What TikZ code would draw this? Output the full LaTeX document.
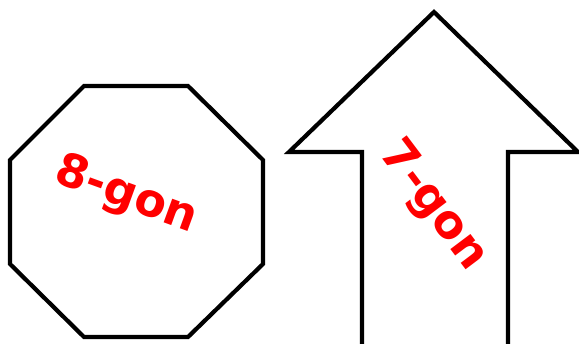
\documentclass[tikz,border=0pt]{standalone}
\usepackage{fontspec}
\setmainfont{DejaVu Sans}
\usetikzlibrary{calc}

\begin{document}
\begin{tikzpicture}[
  x=1pt, y=-1pt,
  outline/.style={draw=black, line width=4.2pt, line join=miter, fill=white},
  scribble/.style={text=red, font=\bfseries\fontsize{46}{46}\selectfont, inner sep=0pt}
]
\useasboundingbox (0,0) rectangle (579,344);
\clip (0,0) rectangle (579,344);

% Octagon
\draw [outline] (84,86) -- (188,86) -- (263,160) -- (263,264) -- (188,337)
  -- (84,337) -- (10,264) -- (10,160) -- cycle;

% Up arrow (runs off the bottom edge)
\draw [outline] (434,12) -- (578,152) -- (508,152) -- (508,360)
  -- (362,360) -- (362,152) -- (289,152) -- cycle;

% Labels
\node (octlabel) [scribble, rotate=-20] at (126,196) {8-gon};
\node (arrowlabel) [scribble, rotate=-53] at (433,206) {7-gon};

\end{tikzpicture}
\end{document}
